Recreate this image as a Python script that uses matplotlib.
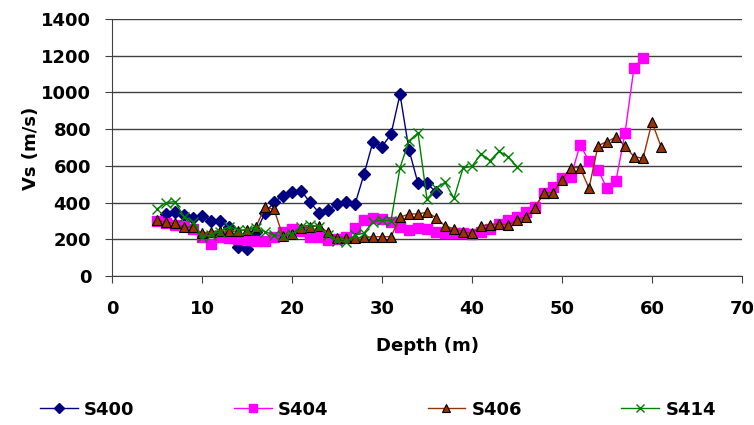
import matplotlib
matplotlib.use("Agg")
import matplotlib.pyplot as plt

plt.rcParams['font.family'] = ['DejaVu Sans']

# Data (depth in m, Vs in m/s)
s400_depth = list(range(6, 37))
s400_vs = [338, 349, 332, 316, 327, 300, 300, 267, 158, 147, 240, 343, 402, 438, 459,
           465, 402, 345, 360, 391, 405, 391, 554, 732, 705, 772, 990, 687, 505, 505, 456]

s404_depth = list(range(5, 60))
s404_vs = [300, 290, 280, 270, 258, 215, 172, 210, 205, 200, 195, 188, 188, 210, 240,
           255, 245, 214, 214, 196, 200, 214, 260, 305, 318, 310, 296, 269, 251, 260,
           255, 242, 233, 233, 233, 229, 242, 255, 283, 305, 323, 350, 378, 450, 487,
           532, 541, 714, 628, 578, 478, 519, 778, 1135, 1186]

s406_depth = list(range(5, 62))
s406_vs = [305, 292, 287, 265, 265, 232, 242, 245, 245, 245, 251, 269, 374, 363, 216,
           230, 260, 269, 272, 238, 209, 205, 209, 211, 214, 214, 214, 320, 338, 338,
           347, 318, 273, 257, 240, 233, 273, 280, 285, 278, 305, 323, 372, 454, 454,
           523, 590, 590, 478, 710, 732, 756, 708, 650, 641, 838, 705]

s414_depth = list(range(5, 46))
s414_vs = [365, 400, 405, 323, 296, 214, 223, 242, 269, 251, 251, 260, 242, 223, 218,
           230, 269, 278, 269, 223, 192, 187, 223, 233, 296, 305, 300, 590, 736, 780,
           418, 478, 510, 423, 587, 598, 666, 628, 680, 650, 596]

x_ticks = [0, 10, 20, 30, 40, 50, 60, 70]
y_ticks = [0, 200, 400, 600, 800, 1000, 1200, 1400]

FS = 13

fig = plt.figure(figsize=(7.54, 4.25), dpi=100)
ax = fig.add_axes([112/754, 1-276/425, (742-112)/754, (276-19)/425])

ax.plot(s400_depth, s400_vs, color='#000080', marker='D', markersize=6,
        markerfacecolor='#000080', markeredgecolor='#000080', lw=1, label='S400')
ax.plot(s404_depth, s404_vs, color='#FF00FF', marker='s', markersize=6.5,
        markerfacecolor='#FF00FF', markeredgecolor='#FF00FF', lw=1, label='S404')
ax.plot(s406_depth, s406_vs, color='#993300', marker='^', markersize=7.5,
        markerfacecolor='#993300', markeredgecolor='black', markeredgewidth=0.8,
        lw=1, label='S406')
ax.plot(s414_depth, s414_vs, color='#008000', marker='x', markersize=7,
        markeredgewidth=1, lw=1, label='S414')

ax.set_xlim(0, 70)
ax.set_ylim(0, 1400)
ax.set_xticks(x_ticks)
ax.set_yticks(y_ticks)
ax.grid(axis='y', color='#404040', lw=1)
ax.set_axisbelow(True)
for s in ['top', 'right']:
    ax.spines[s].set_visible(False)
for s in ['left', 'bottom']:
    ax.spines[s].set_color('#404040')
ax.tick_params(axis='x', direction='out', length=5, color='#404040', pad=12,
               labelsize=FS)
ax.tick_params(axis='y', direction='out', length=5, color='#404040', pad=10,
               labelsize=FS)
for lab in ax.get_xticklabels() + ax.get_yticklabels():
    lab.set_fontweight('bold')

ax.set_xlabel('Depth (m)', fontsize=FS, fontweight='bold', labelpad=14)
fig.text(31/754, 1-148/425, 'Vs (m/s)', rotation=90, ha='center', va='center',
         fontsize=FS, fontweight='bold')

handles, labels = ax.get_legend_handles_labels()
leg = fig.legend(handles, labels, loc='lower left', ncol=4, mode='expand',
                 bbox_to_anchor=(40/754, 0.015, (716-40)/754, 0.07),
                 frameon=False, handlelength=2.1, handletextpad=0.35,
                 markerscale=0.8, borderpad=0, borderaxespad=0,
                 prop={'weight': 'bold', 'size': FS})

fig.savefig('out.png', dpi=100)
